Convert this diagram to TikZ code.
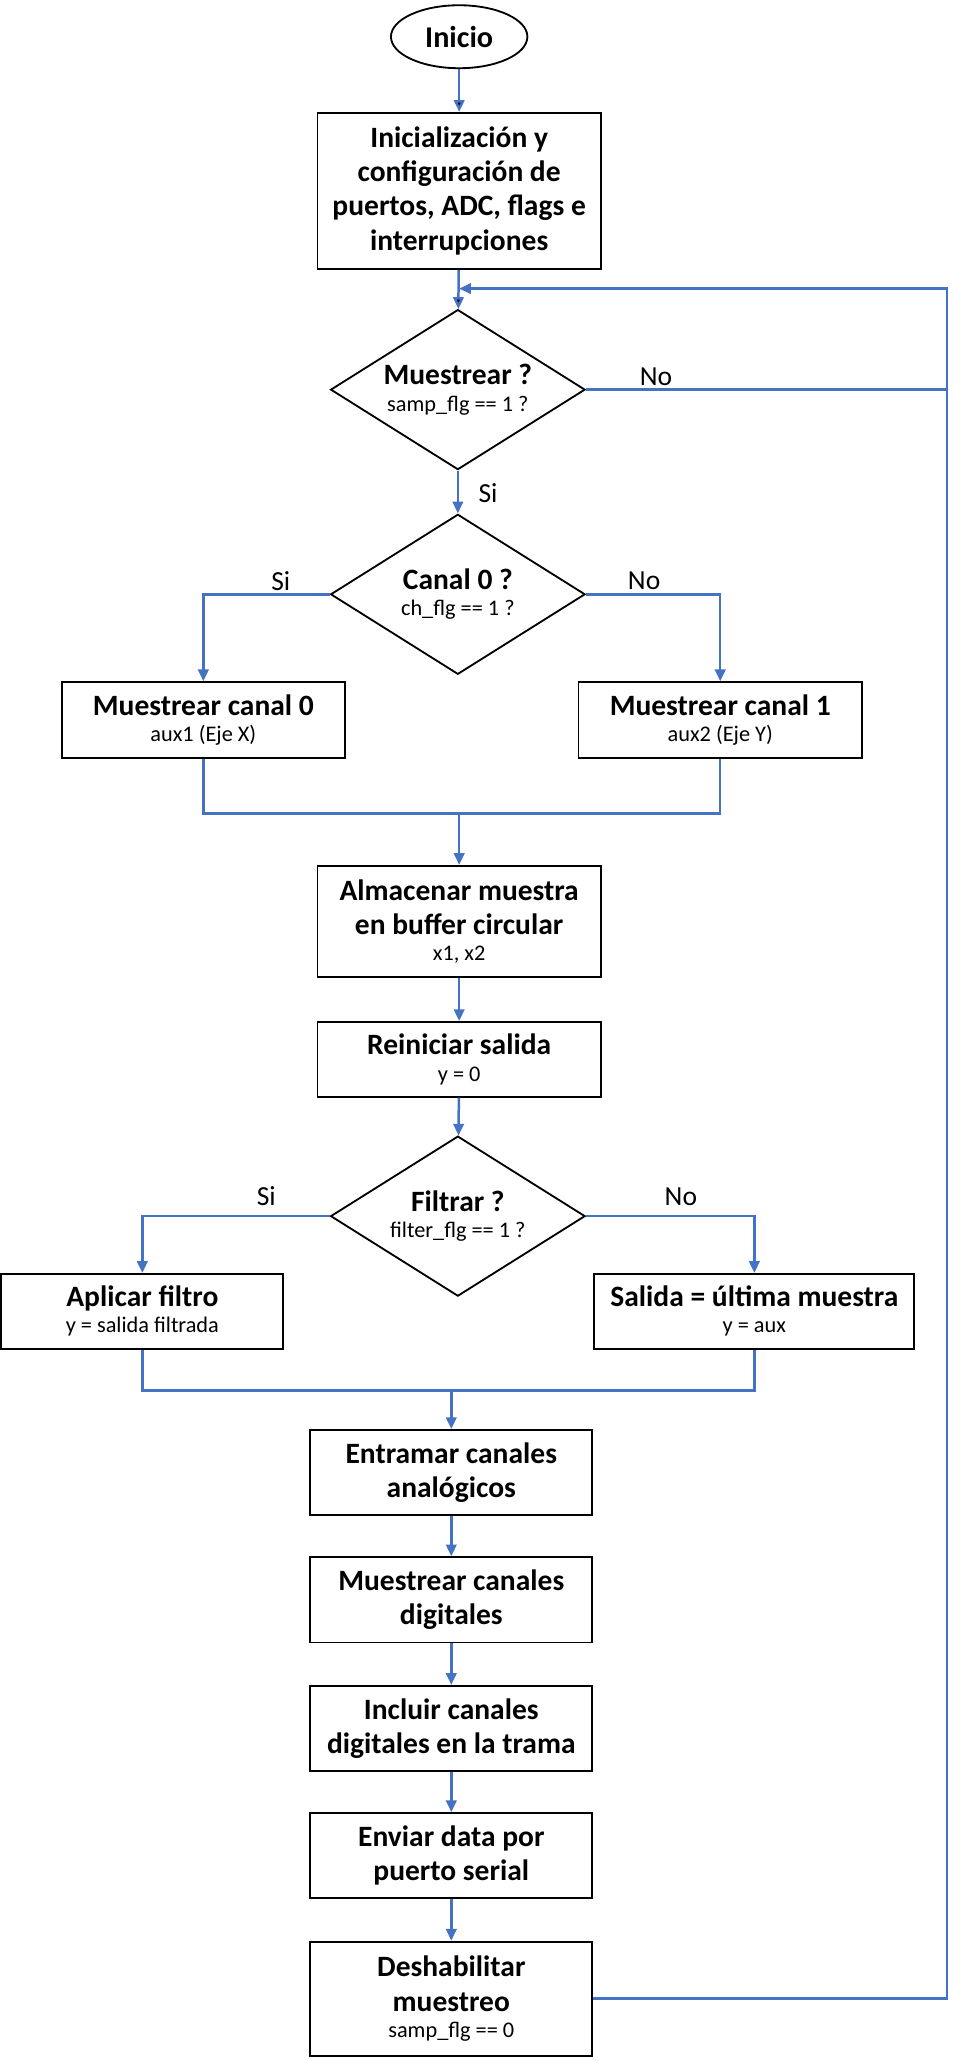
\documentclass[tikz,border=0pt]{standalone}
\usepackage{fontspec}
\setmainfont{Carlito}
\usetikzlibrary{arrows.meta, positioning, shapes.geometric}
\definecolor{flowblue}{RGB}{68,114,196}
\newcommand{\subtxt}[1]{{\mdseries\fontsize{17}{20}\selectfont #1}}

\begin{document}
\begin{tikzpicture}[x=1pt, y=-1pt, >={Triangle[length=9pt, width=8pt]}]
				\tikzstyle{term} = [draw=black, line width=1.4pt, ellipse, inner sep=0pt, minimum width=104pt, minimum height=48pt, font=\bfseries\fontsize{23}{26}\selectfont]
				\tikzstyle{box} = [draw=black, line width=1.4pt, rectangle, align=center, inner sep=2pt, font=\bfseries\fontsize{22.5}{26}\selectfont]
				\tikzstyle{cond} = [draw=black, line width=1.4pt, diamond, aspect=1.6, inner sep=0pt, minimum width=194pt, minimum height=122pt, align=center, font=\bfseries\fontsize{22.5}{26}\selectfont]
				\tikzstyle{flow} = [draw=flowblue, line width=1.9pt]
				\tikzstyle{tag} = [font=\fontsize{21}{24}\selectfont]
				
				\useasboundingbox (0, 0) rectangle (727, 1571);
				
				\node[term] 	at (350, 28) 		(inicio) 	{Inicio};
				\node[box, minimum width=216pt, minimum height=119pt] 	at (350, 145.5) 	(init) 	{Inicialización y\\configuración de\\puertos, ADC, flags e\\interrupciones};
				\node[cond] 	at (349, 297) 		(muest) 	{Muestrear ?\\[-6pt]\subtxt{samp\_flg == 1 ?}};
				\node[cond] 	at (349, 453) 		(canal) 	{Canal 0 ?\\[-6pt]\subtxt{ch\_flg == 1 ?}};
				\node[box, minimum width=216pt, minimum height=58pt] 	at (155, 549) 	(mc0) 	{Muestrear canal 0\\[-6pt]\subtxt{aux1 (Eje X)}};
				\node[box, minimum width=216pt, minimum height=58pt] 	at (549, 549) 	(mc1) 	{Muestrear canal 1\\[-6pt]\subtxt{aux2 (Eje Y)}};
				\node[box, minimum width=216pt, minimum height=85pt] 	at (350, 702.5) 	(alm) 	{Almacenar muestra\\en buffer circular\\[-6pt]\subtxt{x1, x2}};
				\node[box, minimum width=216pt, minimum height=57pt] 	at (350, 807.5) 	(rein) 	{Reiniciar salida\\[-6pt]\subtxt{y = 0}};
				\node[cond] 	at (349, 927) 		(filt) 	{Filtrar ?\\[-6pt]\subtxt{filter\_flg == 1 ?}};
				\node[box, minimum width=215pt, minimum height=57pt] 	at (108.5, 999.5) 	(apl) 	{Aplicar filtro\\[-6pt]\subtxt{y = salida filtrada}};
				\node[box, minimum width=244pt, minimum height=57pt] 	at (575, 999.5) 	(sal) 	{Salida = última muestra\\[-6pt]\subtxt{y = aux}};
				\node[box, minimum width=215pt, minimum height=65pt] 	at (344, 1122.5) 	(entr) 	{Entramar canales\\analógicos};
				\node[box, minimum width=215pt, minimum height=65pt] 	at (344, 1219.5) 	(mdig) 	{Muestrear canales\\digitales};
				\node[box, minimum width=215pt, minimum height=65pt] 	at (344, 1317.5) 	(incl) 	{Incluir canales\\digitales en la trama};
				\node[box, minimum width=215pt, minimum height=65pt] 	at (344, 1414.5) 	(env) 	{Enviar data por\\puerto serial};
				\node[box, minimum width=215pt, minimum height=87pt] 	at (344, 1523.5) 	(desh) 	{Deshabilitar\\muestreo\\[-6pt]\subtxt{samp\_flg == 0}};
				
				\coordinate (rail) 	at (722, 220);
				\coordinate (join1) 	at (350, 620);
				\coordinate (join2) 	at (344, 1060);
				
				\node[tag] 	at (500, 287) 	(no1) 	{No};
				\node[tag] 	at (372, 376) 	(si1) 	{Si};
				\node[tag] 	at (214, 443) 	(si2) 	{Si};
				\node[tag] 	at (491, 443) 	(no2) 	{No};
				\node[tag] 	at (203, 912) 	(si3) 	{Si};
				\node[tag] 	at (519, 912) 	(no3) 	{No};
				
				\path[flow, ->] (inicio) edge (init);
				\path[flow, ->] (init) edge (muest);
				\draw[flow, ->] (desh.east) -| (rail) -- (init.south |- rail);
				\draw[flow] (muest.east) -- (rail |- muest.east);
				\draw[flow, ->] (muest) -- (canal);
				\draw[flow, ->] (canal.west) -| (mc0.north);
				\draw[flow, ->] (canal.east) -| (mc1.north);
				\draw[flow] (mc0.south) |- (join1) -| (mc1.south);
				\draw[flow, ->] (join1) -- (alm.north);
				\draw[flow, ->] (alm) -- (rein);
				\draw[flow, ->] (rein) -- (filt);
				\draw[flow, ->] (filt.west) -| (apl.north);
				\draw[flow, ->] (filt.east) -| (sal.north);
				\draw[flow] (apl.south) |- (join2) -| (sal.south);
				\draw[flow, ->] (join2) -- (entr.north);
				\draw[flow, ->] (entr) -- (mdig);
				\draw[flow, ->] (mdig) -- (incl);
				\draw[flow, ->] (incl) -- (env);
				\draw[flow, ->] (env) -- (desh);
\end{tikzpicture}
\end{document}
